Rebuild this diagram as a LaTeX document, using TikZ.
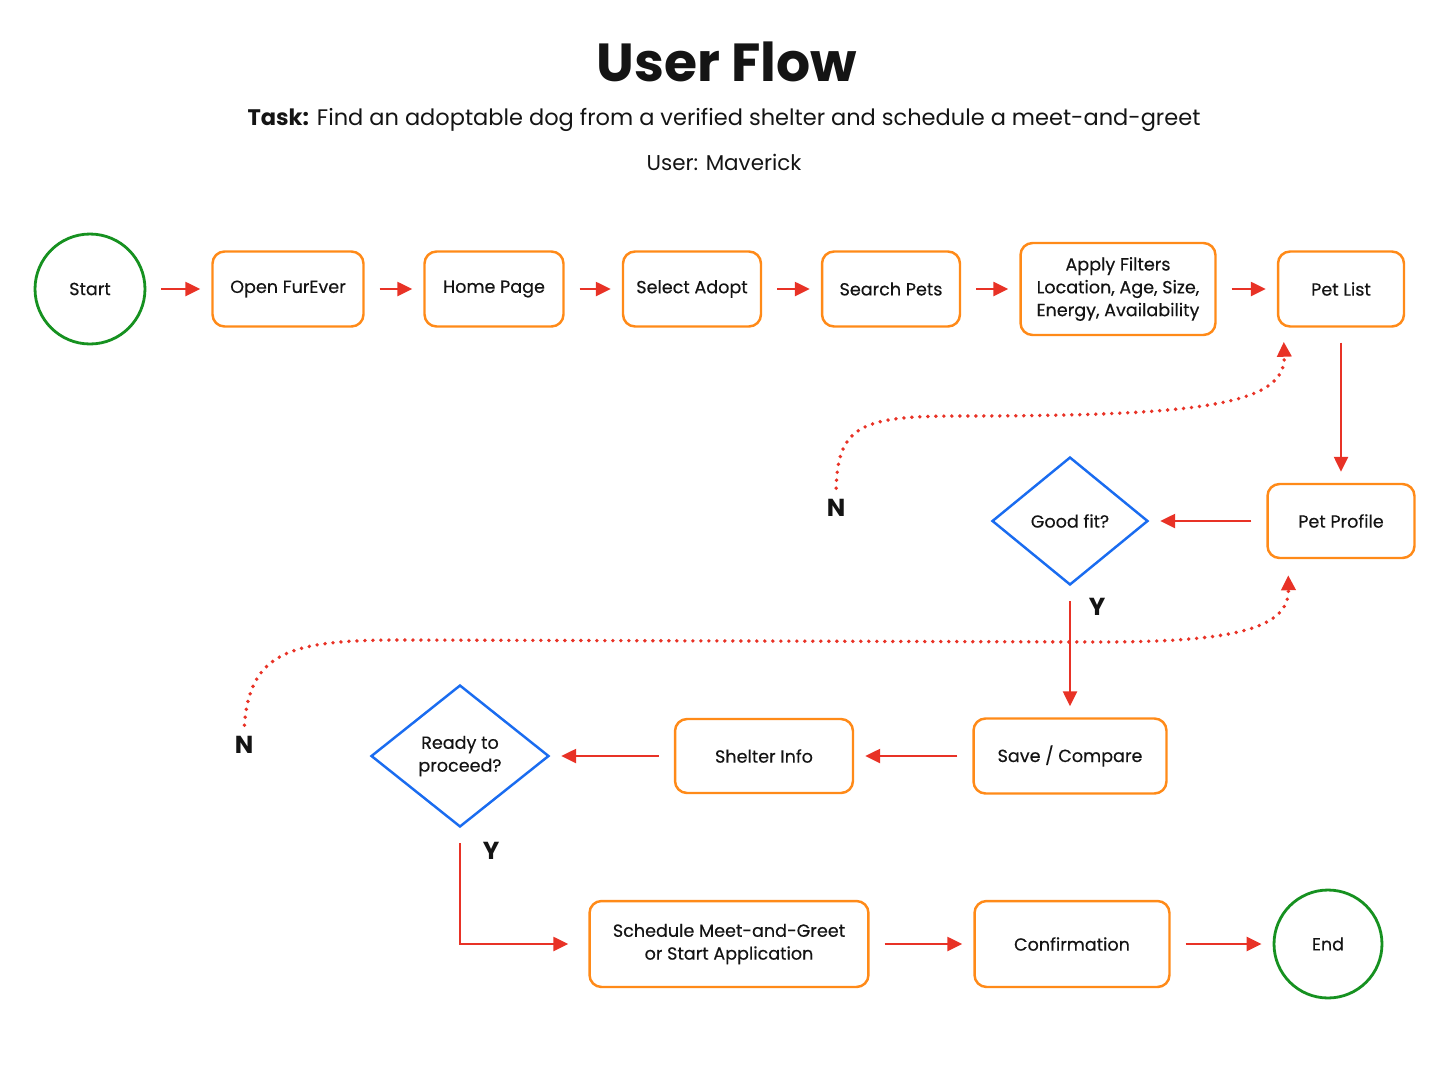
\documentclass[tikz,border=0pt]{standalone}
\usepackage{fontspec}
\setmainfont{Poppins}
\newfontfamily\boxfont{Poppins}[FakeBold=0.4]
\usetikzlibrary{shapes.geometric, arrows.meta, positioning, calc}
\definecolor{boxorange}{RGB}{255,138,24}
\definecolor{flowred}{RGB}{232,50,38}
\definecolor{termgreen}{RGB}{22,145,32}
\definecolor{decblue}{RGB}{26,108,240}
\definecolor{ink}{RGB}{20,20,20}

\begin{document}
\begin{tikzpicture}[
    x=0.02cm, y=-0.02cm,
    screen/.style={rectangle, rounded corners=0.24cm, draw=boxorange, line width=1.4pt, align=center, text=ink, font=\boxfont\fontsize{10}{13}\selectfont, minimum height=1.5cm},
    terminal/.style={circle, draw=termgreen, line width=1.6pt, text=ink, font=\boxfont\fontsize{10}{13}\selectfont},
    decision/.style={diamond, draw=decblue, line width=1.4pt, align=center, inner sep=0pt, text=ink, font=\boxfont\fontsize{10}{13}\selectfont},
    flow/.style={draw=flowred, line width=1.4pt, -{Triangle[length=0.3cm, width=0.28cm]}, shorten <=0.3cm, shorten >=0.22cm},
    back/.style={draw=flowred, line width=2.2pt, line cap=round, dash pattern=on 0pt off 0.16cm, -{Triangle[length=0.3cm, width=0.28cm]}, shorten <=0.1cm},
    branch/.style={text=ink, font=\bfseries\fontsize{14}{14}\selectfont}
]
\useasboundingbox (0,0) rectangle (1448,1086);

\node[text=ink, font=\bfseries\fontsize{30.5}{36}\selectfont] (title) at (727,62) {User Flow};
\node[text=ink, font=\fontsize{12.8}{15}\selectfont] (task) at (724,120) {\textbf{Task:} Find an adoptable dog from a verified shelter and schedule a meet-and-greet};
\node[text=ink, font=\fontsize{12.2}{14}\selectfont] (user) at (724,162) {User: Maverick};

\node[terminal, minimum size=2.2cm] (start) at (90,289) {Start};
\node[screen, minimum width=3.02cm] (open) at (288,289) {Open FurEver};
\node[screen, minimum width=2.78cm] (home) at (494,289) {Home Page};
\node[screen, minimum width=2.76cm] (adopt) at (692,289) {Select Adopt};
\node[screen, minimum width=2.76cm] (search) at (891,289) {Search Pets};
\node[screen, minimum width=3.9cm, minimum height=1.84cm] (filters) at (1118,289) {Apply Filters\\Location, Age, Size,\\Energy, Availability};
\node[screen, minimum width=2.52cm] (petlist) at (1341,289) {Pet List};
\node[screen, minimum width=2.94cm, minimum height=1.48cm] (profile) at (1341,521) {Pet Profile};
\node[decision, minimum width=3.12cm, minimum height=2.56cm] (goodfit) at (1070,521) {Good fit?};
\node[screen, minimum width=3.86cm] (save) at (1070,756) {Save / Compare};
\node[screen, minimum width=3.56cm, minimum height=1.48cm] (shelter) at (764,756) {Shelter Info};
\node[decision, minimum width=3.56cm, minimum height=2.84cm] (ready) at (460,756) {Ready to\\proceed?};
\node[screen, minimum width=5.58cm, minimum height=1.72cm] (meet) at (729,944) {Schedule Meet-and-Greet\\or Start Application};
\node[screen, minimum width=3.9cm, minimum height=1.72cm] (confirm) at (1072,944) {Confirmation};
\node[terminal, minimum size=2.16cm] (finish) at (1328,944) {End};

\node[branch] (yfit) at (1097,607) {Y};
\node[branch] (nfit) at (836,508) {N};
\node[branch] (yready) at (491,851) {Y};
\node[branch] (nready) at (244,745) {N};

\draw[flow] (start) -- (open);
\draw[flow] (open) -- (home);
\draw[flow] (home) -- (adopt);
\draw[flow] (adopt) -- (search);
\draw[flow] (search) -- (filters);
\draw[flow] (filters) -- (petlist);
\draw[flow] (petlist) -- (profile);
\draw[flow] (profile) -- (goodfit);
\draw[flow] (goodfit) -- (save);
\draw[flow] (save) -- (shelter);
\draw[flow] (shelter) -- (ready);
\draw[flow, shorten >=0.4cm] (ready.south) |- (meet.west);
\draw[flow] (meet) -- (confirm);
\draw[flow] (confirm) -- (finish);

\draw[back] (nfit.north) .. controls (838,425) and (862,416) .. (960,416)
    .. controls (1200,416) and (1286,405) .. ($(petlist.south west)+(7,14)$);
\draw[back] (nready.north) .. controls (250,652) and (290,640) .. (400,640)
    -- (1100,642) .. controls (1236,642) and (1289,628) .. ($(profile.south west)+(22,16)$);
\end{tikzpicture}
\end{document}
